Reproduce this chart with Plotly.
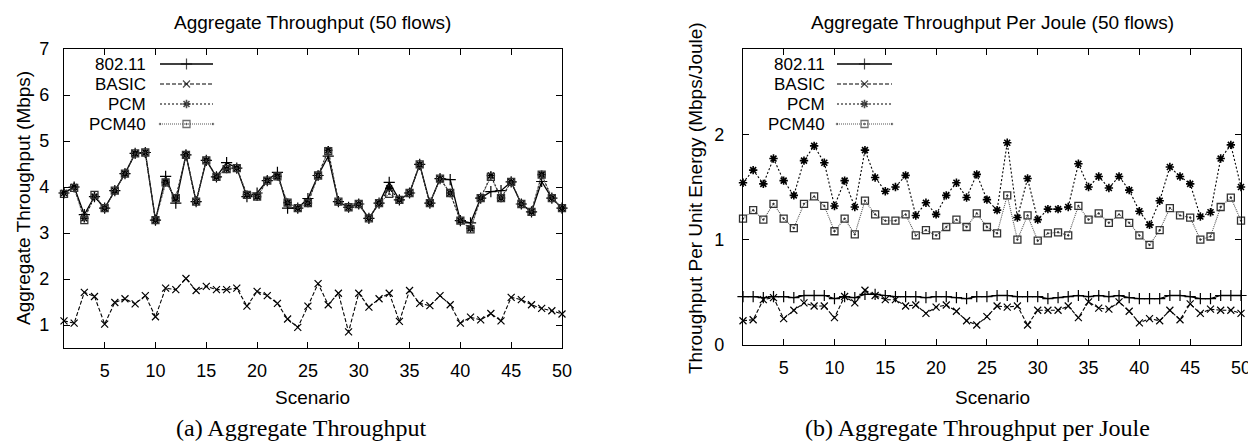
import plotly.graph_objects as go

# Window is 1256x443; the page body adds an 8px margin, so the figure is
# drawn 8px smaller and positions below are given in window pixels.
WIN_W, WIN_H = 1256, 443
OFF = 8
FW, FH = WIN_W - OFF, WIN_H - OFF

scenarios = list(range(1, 51))

# Left: Aggregate Throughput (Mbps)
thr_80211 = [3.87, 4.00, 3.40, 3.79, 3.54, 3.92, 4.29, 4.73, 4.75, 3.28,
             4.23, 3.65, 4.70, 3.68, 4.58, 4.22, 4.53, 4.41, 3.79, 3.87,
             4.14, 4.32, 3.54, 3.54, 3.75, 4.25, 4.67, 3.68, 3.56, 3.63,
             3.32, 3.65, 4.10, 3.72, 3.87, 4.49, 3.65, 4.18, 4.16, 3.27,
             3.22, 3.76, 3.90, 3.92, 4.11, 3.63, 3.46, 4.12, 3.76, 3.54]
thr_basic = [1.09, 1.04, 1.71, 1.62, 1.02, 1.49, 1.57, 1.46, 1.64, 1.18,
             1.80, 1.77, 2.01, 1.75, 1.84, 1.77, 1.77, 1.80, 1.41, 1.73,
             1.64, 1.47, 1.13, 0.95, 1.41, 1.90, 1.44, 1.69, 0.85, 1.69,
             1.39, 1.57, 1.69, 1.08, 1.75, 1.47, 1.42, 1.64, 1.44, 1.04,
             1.17, 1.11, 1.25, 1.09, 1.60, 1.55, 1.44, 1.36, 1.31, 1.24]
thr_pcm = [3.87, 4.00, 3.32, 3.79, 3.54, 3.92, 4.29, 4.73, 4.75, 3.28,
           4.10, 3.76, 4.70, 3.68, 4.58, 4.22, 4.39, 4.41, 3.83, 3.79,
           4.14, 4.23, 3.66, 3.54, 3.65, 4.25, 4.80, 3.68, 3.56, 3.63,
           3.32, 3.65, 3.97, 3.72, 3.87, 4.49, 3.65, 4.18, 3.87, 3.27,
           3.10, 3.76, 4.25, 3.76, 4.11, 3.63, 3.46, 4.27, 3.76, 3.54]
thr_pcm40 = [3.85, 3.98, 3.28, 3.83, 3.54, 3.92, 4.29, 4.73, 4.75, 3.28,
             4.10, 3.76, 4.70, 3.68, 4.58, 4.22, 4.39, 4.41, 3.83, 3.79,
             4.14, 4.23, 3.66, 3.54, 3.65, 4.25, 4.78, 3.68, 3.56, 3.63,
             3.32, 3.65, 3.85, 3.72, 3.87, 4.49, 3.65, 4.18, 3.87, 3.27,
             3.08, 3.76, 4.22, 3.76, 4.11, 3.63, 3.46, 4.27, 3.76, 3.54]

# Right: Throughput per unit energy (Mbps/Joule)
tpj_80211 = [0.46, 0.46, 0.45, 0.46, 0.46, 0.45, 0.47, 0.47, 0.47, 0.44,
             0.46, 0.45, 0.48, 0.48, 0.47, 0.46, 0.46, 0.46, 0.45, 0.46,
             0.46, 0.45, 0.44, 0.46, 0.46, 0.47, 0.47, 0.46, 0.46, 0.46,
             0.44, 0.45, 0.46, 0.47, 0.46, 0.47, 0.46, 0.47, 0.45, 0.44,
             0.44, 0.44, 0.47, 0.47, 0.46, 0.44, 0.44, 0.47, 0.47, 0.47]
tpj_basic = [0.23, 0.24, 0.43, 0.45, 0.25, 0.33, 0.40, 0.37, 0.37, 0.26,
             0.46, 0.40, 0.52, 0.47, 0.43, 0.43, 0.37, 0.38, 0.30, 0.36,
             0.38, 0.32, 0.23, 0.19, 0.27, 0.37, 0.36, 0.37, 0.19, 0.33,
             0.33, 0.33, 0.37, 0.26, 0.41, 0.35, 0.34, 0.41, 0.32, 0.21,
             0.25, 0.23, 0.33, 0.24, 0.39, 0.30, 0.34, 0.33, 0.33, 0.30]
tpj_pcm = [1.54, 1.66, 1.53, 1.77, 1.56, 1.42, 1.75, 1.89, 1.73, 1.32,
           1.56, 1.31, 1.85, 1.59, 1.46, 1.50, 1.61, 1.23, 1.35, 1.24,
           1.42, 1.54, 1.40, 1.62, 1.38, 1.28, 1.92, 1.21, 1.58, 1.19,
           1.29, 1.29, 1.31, 1.72, 1.50, 1.60, 1.49, 1.60, 1.47, 1.27,
           1.14, 1.37, 1.69, 1.60, 1.53, 1.22, 1.26, 1.77, 1.90, 1.50]
tpj_pcm40 = [1.20, 1.28, 1.19, 1.34, 1.20, 1.11, 1.34, 1.41, 1.32, 1.08,
             1.20, 1.05, 1.37, 1.24, 1.18, 1.18, 1.24, 1.04, 1.09, 1.04,
             1.12, 1.19, 1.12, 1.25, 1.12, 1.06, 1.42, 1.00, 1.23, 0.99,
             1.06, 1.07, 1.04, 1.32, 1.19, 1.25, 1.16, 1.24, 1.16, 1.04,
             0.95, 1.09, 1.30, 1.23, 1.21, 1.00, 1.03, 1.31, 1.40, 1.18]

series_names = ["802.11", "BASIC", "PCM", "PCM40"]
x_ticks = [5, 10, 15, 20, 25, 30, 35, 40, 45, 50]

SANS = "Liberation Sans, Arial, Helvetica, sans-serif"
SERIF = "Liberation Serif, Times New Roman, serif"

styles = {
    "802.11": dict(line=dict(color="black", width=1.3, dash="solid"),
                   marker=dict(symbol="cross-thin-open", size=8, color="black",
                               line=dict(color="black", width=1.2))),
    "BASIC": dict(line=dict(color="black", width=1.1, dash="4px,2px"),
                  marker=dict(symbol="x-thin-open", size=7, color="black",
                              line=dict(color="black", width=1.2))),
    "PCM": dict(line=dict(color="black", width=1.1, dash="2px,2px"),
                marker=dict(symbol="asterisk-open", size=7, color="black",
                            line=dict(color="black", width=1.6))),
    "PCM40": dict(line=dict(color="#555555", width=1.1, dash="1px,1px"),
                  marker=dict(symbol="square-open-dot", size=7, color="#333333",
                              line=dict(color="#333333", width=1.3))),
}

fig = go.Figure()

left = {"802.11": thr_80211, "BASIC": thr_basic, "PCM": thr_pcm, "PCM40": thr_pcm40}
right = {"802.11": tpj_80211, "BASIC": tpj_basic, "PCM": tpj_pcm, "PCM40": tpj_pcm40}

for name in series_names:
    fig.add_trace(go.Scatter(x=scenarios, y=left[name], mode="lines+markers",
                             name=name, showlegend=False, xaxis="x", yaxis="y",
                             cliponaxis=False, **styles[name]))
for name in series_names:
    fig.add_trace(go.Scatter(x=scenarios, y=right[name], mode="lines+markers",
                             name=name, showlegend=False, xaxis="x2", yaxis="y2",
                             cliponaxis=False, **styles[name]))

def px_x(p):
    return (p - OFF) / FW

def px_y(p):
    return 1 - (p - OFF) / FH

# Legend keys: label, then a sample line with a marker
legend_rows_y = [64, 84, 104, 124]
for (text_right, line_a, line_b) in [(147, 160, 213), (826, 837, 892)]:
    for name, ry in zip(series_names, legend_rows_y):
        st = styles[name]
        fig.add_trace(go.Scatter(
            x=[line_a, (line_a + line_b) / 2, line_b], y=[ry, ry, ry],
            mode="lines+markers", showlegend=False, xaxis="x3", yaxis="y3",
            line=st["line"],
            marker=dict(symbol=st["marker"]["symbol"], size=[0, st["marker"]["size"], 0],
                        color=st["marker"]["color"], line=st["marker"]["line"]),
            hoverinfo="skip", cliponaxis=False))
        fig.add_annotation(x=text_right, y=ry, xref="x3", yref="y3", text=name,
                           showarrow=False, xanchor="right", yanchor="middle",
                           borderpad=0,
                           font=dict(family=SANS, size=17, color="black"))

axis_common = dict(showline=True, linecolor="black", linewidth=1.3, mirror="allticks",
                   ticks="inside", ticklen=6, tickwidth=1, tickcolor="black",
                   showgrid=False, zeroline=False, automargin=False,
                   tickfont=dict(family=SANS, size=18, color="black"))

fig.update_layout(
    width=FW, height=FH,
    margin=dict(l=0, r=0, t=0, b=0, pad=0, autoexpand=False),
    paper_bgcolor="white", plot_bgcolor="rgba(0,0,0,0)",
    xaxis=dict(domain=[px_x(64), px_x(562)], range=[1, 50], tickvals=x_ticks,
               anchor="y", ticklabelstandoff=6, **axis_common),
    yaxis=dict(domain=[px_y(348), px_y(49)], range=[0.5, 7], dtick=1,
               anchor="x", ticklabelstandoff=10, **axis_common),
    xaxis2=dict(domain=[px_x(743), px_x(1241)], range=[1, 50], tickvals=x_ticks,
                anchor="y2", ticklabelstandoff=6, **axis_common),
    yaxis2=dict(domain=[px_y(345), px_y(49)], range=[0, 2.81], tickvals=[0, 1, 2],
                anchor="x2", ticklabelstandoff=14, **axis_common),
    xaxis3=dict(domain=[0, 1], range=[OFF, WIN_W], visible=False, anchor="y3",
                fixedrange=True, automargin=False),
    yaxis3=dict(domain=[0, 1], range=[WIN_H, OFF], visible=False, anchor="x3",
                fixedrange=True, automargin=False),
)

texts = [
    # (text, x, y, angle, font, size) in window pixels
    ("Aggregate Throughput (50 flows)", 312, 22, 0, SANS, 19),
    ("Aggregate Throughput Per Joule (50 flows)", 992, 22, 0, SANS, 19),
    ("Aggregate Throughput (Mbps)", 23, 198, -90, SANS, 19),
    ("Throughput Per Unit Energy (Mbps/Joule)", 695, 198, -90, SANS, 19),
    ("Scenario", 312, 397, 0, SANS, 19),
    ("Scenario", 992, 397, 0, SANS, 19),
    ("(a) Aggregate Throughput", 301, 428, 0, SERIF, 24),
    ("(b) Aggregate Throughput per Joule", 977, 428, 0, SERIF, 24),
]
for t, x, y, ang, fam, sz in texts:
    fig.add_annotation(x=x, y=y, xref="x3", yref="y3", text=t, showarrow=False,
                       xanchor="center", yanchor="middle", textangle=ang,
                       borderpad=0,
                       font=dict(family=fam, size=sz, color="black"))

fig.write_html("out.html")
